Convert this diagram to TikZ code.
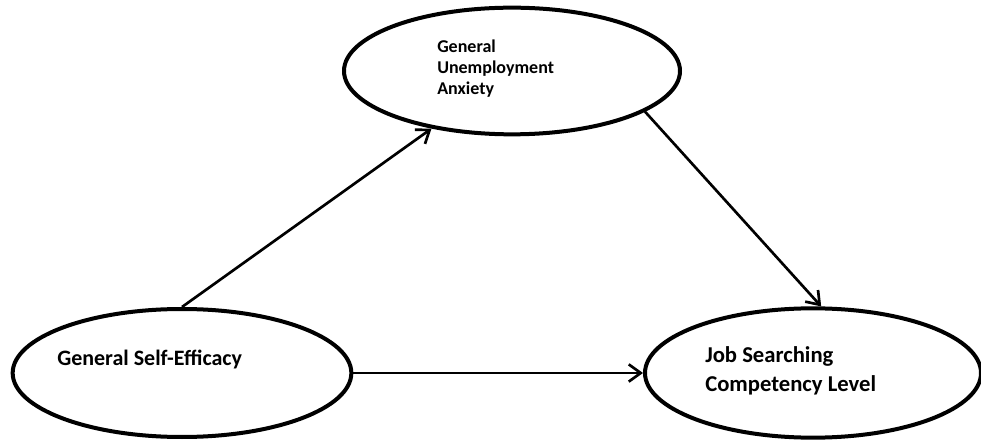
\documentclass[tikz,border=0pt]{standalone}
\usepackage{fontspec}
\setmainfont{Carlito}
\usetikzlibrary{arrows.meta,shapes.geometric,positioning}
\tikzset{>={Straight Barb[length=9pt,width=13pt]}}

\begin{document}
\begin{tikzpicture}[x=0.75pt,y=-0.75pt]
	\tikzset{latent/.style={ellipse,draw,line width=3pt,inner sep=0pt}}
	\tikzset{txt/.style={inner sep=0pt,align=left}}
	\useasboundingbox (0,0) rectangle (981,441);
	\node[latent,minimum width=254pt,minimum height=96pt] (gse) at (182,373) {};
	\node[latent,minimum width=252pt,minimum height=95pt] (gua) at (512,71) {};
	\node[latent,minimum width=252pt,minimum height=97pt] (jsc) at (813,373) {};
	% text sits up and left inside each ellipse
	\node[txt,anchor=base west,font=\fontsize{16.5}{20}\selectfont\bfseries] (gsetxt) at (57,365) {General Self-Efficacy};
	\node[txt,anchor=base west,font=\fontsize{13.5}{16}\selectfont\bfseries] (guatxt) at (437,95) {General\\Unemployment\\Anxiety};
	\node[txt,anchor=base west,font=\fontsize{17}{21.75}\selectfont\bfseries] (jsctxt) at (705,392) {Job Searching\\Competency Level};
	\path[->,line width=2pt]
		(gse.north) edge (gua)
		(gua.-17)   edge (jsc.83)
		(gse.east)  edge (jsc.west);
\end{tikzpicture}
\end{document}
